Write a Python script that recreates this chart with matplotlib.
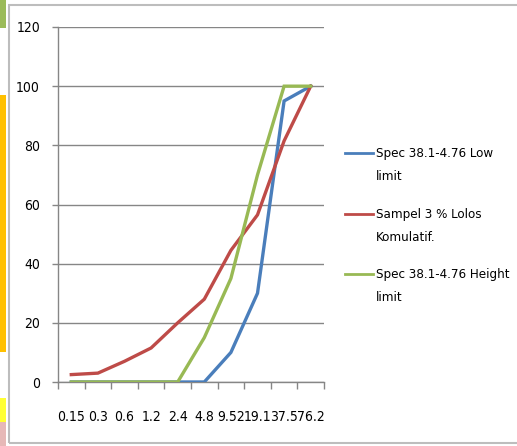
import matplotlib
matplotlib.use("Agg")
import matplotlib.pyplot as plt
from matplotlib import font_manager
from matplotlib.lines import Line2D
from matplotlib.patches import Rectangle
import numpy as np

# prefer a narrow face for the Calibri-like look
narrow = [f for f in font_manager.fontManager.ttflist
          if ("Narrow" in f.name or "Condensed" in f.name or f.stretch in ("condensed", "semi-condensed"))
          and f.style == "normal" and f.weight in (400, "normal", "regular")]
if narrow:
    face = sorted(f.fname for f in narrow)[0]
    tick_font = font_manager.FontProperties(fname=face, size=10)
    legend_font = font_manager.FontProperties(fname=face, size=9.5)
else:
    tick_font = font_manager.FontProperties(family="Liberation Sans", size=9)
    legend_font = font_manager.FontProperties(family="Liberation Sans", size=9)

sieve_sizes = ["0.15", "0.3", "0.6", "1.2", "2.4", "4.8", "9.52", "19.1", "37.5", "76.2"]
low_limit = [0, 0, 0, 0, 0, 0, 10, 30, 95, 100]
sample_passing = [2.5, 3, 7, 11.5, 20, 28, 44.5, 56.5, 81.5, 100]
high_limit = [0, 0, 0, 0, 0, 15, 35, 70, 100, 100]

series_labels = ["Spec 38.1-4.76 Low\nlimit",
                 "Sampel 3 % Lolos\nKomulatif.",
                 "Spec 38.1-4.76 Height\nlimit"]
series_colors = ["#4A7EBB", "#BE4B48", "#98B954"]
y_ticks = [0, 20, 40, 60, 80, 100, 120]

W, H = 517, 446
fig = plt.figure(figsize=(W / 100, H / 100), dpi=100)

# chart frame and a sliver of neighbouring sheet cells on the left
fig.add_artist(Rectangle((9 / W, 3 / H), 1.2, 1 - 8 / H, transform=fig.transFigure,
                         fill=False, edgecolor="#BDBDBD", lw=1.5))
strip = [(0, 28, "#9BBB59"), (28, 95, "#FFFFFF"), (95, 352, "#FFC000"),
         (352, 398, "#FFFFFF"), (398, 422, "#FFFF33"), (422, 446, "#E6B8B7")]
for y0, y1, c in strip:
    fig.add_artist(Rectangle((0, 1 - y1 / H), 6 / W, (y1 - y0) / H,
                             transform=fig.transFigure, color=c, lw=0))

left, right, top, bottom = 58, 324, 27, 382
ax = fig.add_axes([left / W, 1 - bottom / H, (right - left) / W, (bottom - top) / H])

x = np.arange(len(sieve_sizes))
for vals, c in zip([low_limit, sample_passing, high_limit], series_colors):
    ax.plot(x, vals, color=c, lw=2.4, solid_joinstyle="miter", zorder=3)

ax.set_xlim(-0.5, len(sieve_sizes) - 0.5)
ax.set_ylim(0, 120)
ax.set_yticks(y_ticks)
ax.set_yticklabels([str(v) for v in y_ticks], fontproperties=tick_font)
ax.yaxis.grid(True, color="#868686", lw=1)
ax.set_axisbelow(True)

ax.set_xticks(x)
ax.set_xticklabels(sieve_sizes, fontproperties=tick_font)
ax.set_xticks(np.arange(len(sieve_sizes) + 1) - 0.5, minor=True)
ax.tick_params(axis="x", which="major", length=0, pad=20)
ax.tick_params(axis="x", which="minor", length=5, width=1, color="#868686")
ax.tick_params(axis="y", length=4, width=1, color="#868686", pad=9)

for s in ["top", "right"]:
    ax.spines[s].set_visible(False)
for s in ["left", "bottom"]:
    ax.spines[s].set_color("#868686")
    ax.spines[s].set_linewidth(1)

# legend drawn beside the plot area
legend_rows = [153, 214, 274]
for lab, c, yy in zip(series_labels, series_colors, legend_rows):
    fig.add_artist(Line2D([345 / W, 373 / W], [1 - yy / H, 1 - yy / H],
                          transform=fig.transFigure, color=c, lw=2))
    fig.text(376 / W, 1 - (yy - 6) / H, lab, ha="left", va="top",
             fontproperties=legend_font, linespacing=2.0)

fig.savefig("out.png", dpi=100)
